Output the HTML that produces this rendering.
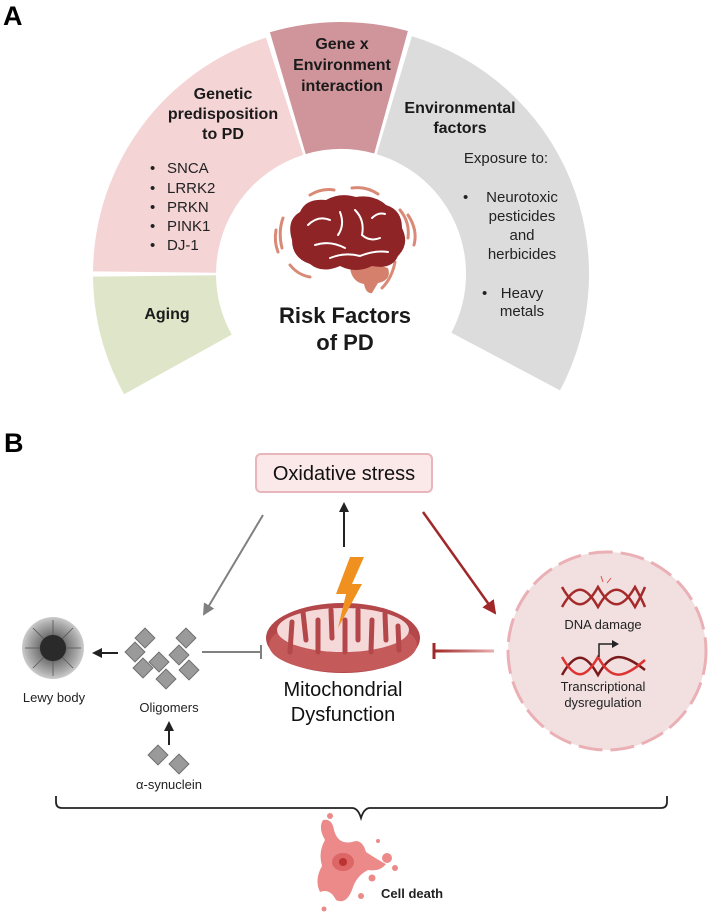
<!DOCTYPE html>
<html><head><meta charset="utf-8"><style>
html,body{margin:0;padding:0;background:#fff;}
svg{display:block;font-family:"Liberation Sans",Arial,sans-serif;}
</style></head><body>
<svg width="708" height="920" viewBox="0 0 708 920" xmlns="http://www.w3.org/2000/svg">
<defs>
<marker id="ab" markerWidth="10" markerHeight="10" refX="8" refY="5" orient="auto" markerUnits="userSpaceOnUse"><path d="M0,0 L10,5 L0,10 Z" fill="#222"/></marker>
<marker id="ag" markerWidth="12" markerHeight="12" refX="10" refY="6" orient="auto" markerUnits="userSpaceOnUse"><path d="M0,0 L12,6 L0,12 Z" fill="#808080"/></marker>
<marker id="ar" markerWidth="14" markerHeight="14" refX="12" refY="7" orient="auto" markerUnits="userSpaceOnUse"><path d="M0,0 L14,7 L0,14 Z" fill="#a02828"/></marker>
<radialGradient id="lw" cx="50%" cy="50%" r="50%"><stop offset="0.35" stop-color="#333"/><stop offset="0.45" stop-color="#777"/><stop offset="0.8" stop-color="#aaa"/><stop offset="1" stop-color="#ccc"/></radialGradient>
<linearGradient id="rg" gradientUnits="userSpaceOnUse" x1="494" y1="0" x2="435" y2="0"><stop offset="0" stop-color="#e8b0b0"/><stop offset="1" stop-color="#a02828"/></linearGradient>
</defs>

<!-- Part A -->
<text x="3" y="25" font-size="27" font-weight="bold" fill="#000">A</text>
<path d="M124.1,394.2 A248,248 0 0 1 93.0,276.6 L216.0,275.3 A125,125 0 0 0 231.7,334.6 Z" fill="#dfe5c8"/>
<path d="M93.0,271.4 A248,248 0 0 1 266.0,37.6 L303.2,154.9 A125,125 0 0 0 216.0,272.7 Z" fill="#f4d4d5"/>
<path d="M269.9,32.3 A252,252 0 0 1 407.9,31.0 L374.2,153.5 A125,125 0 0 0 305.7,154.1 Z" fill="#cf959b"/>
<path d="M411.9,36.3 A248,248 0 0 1 560.0,390.4 L451.4,332.7 A125,125 0 0 0 376.7,154.2 Z" fill="#dcdcdc"/>

<g font-size="16" font-weight="bold" fill="#1a1a1a" text-anchor="middle">
<text x="223" y="99">Genetic</text>
<text x="223" y="119">predisposition</text>
<text x="223" y="139">to PD</text>
<text x="342" y="49">Gene x</text>
<text x="342" y="70">Environment</text>
<text x="342" y="91">interaction</text>
<text x="460" y="113">Environmental</text>
<text x="460" y="133">factors</text>
<text x="167" y="319">Aging</text>
<text x="345" y="323" font-size="22">Risk Factors</text>
<text x="345" y="350" font-size="22">of PD</text>
</g>
<g font-size="15" fill="#222">
<text x="150" y="173">•</text><text x="167" y="173">SNCA</text>
<text x="150" y="193">•</text><text x="167" y="193">LRRK2</text>
<text x="150" y="212">•</text><text x="167" y="212">PRKN</text>
<text x="150" y="231">•</text><text x="167" y="231">PINK1</text>
<text x="150" y="250">•</text><text x="167" y="250">DJ-1</text>
<g text-anchor="middle">
<text x="506" y="163">Exposure to:</text>
<text x="522" y="202">Neurotoxic</text>
<text x="522" y="221">pesticides</text>
<text x="522" y="240">and</text>
<text x="522" y="259">herbicides</text>
<text x="522" y="298">Heavy</text>
<text x="522" y="316">metals</text>
</g>
<text x="463" y="202">•</text>
<text x="482" y="298">•</text>
</g>

<!-- brain -->
<g>
<g fill="none" stroke="#d98a76" stroke-width="3" stroke-linecap="round">
<path d="M310,195 Q322,188 334,190"/><path d="M352,188 Q366,186 378,194"/>
<path d="M283,218 Q278,232 282,248"/><path d="M276,230 Q274,242 278,252"/>
<path d="M400,210 Q410,222 408,238"/><path d="M408,215 Q418,230 414,245"/>
<path d="M290,265 Q298,275 310,277"/><path d="M395,262 Q392,278 382,288"/>
</g>
<path d="M350,268 Q370,262 388,268 Q392,280 378,283 L372,293 Q366,294 364,284 Q352,282 350,268 Z" fill="#d4806c"/>
<path d="M292,240 Q286,220 300,212 Q306,198 326,200 Q340,192 356,197 Q374,194 386,205 Q402,210 402,228 Q410,244 398,256 Q392,270 372,266 Q356,274 340,266 Q322,274 310,264 Q292,258 292,240 Z" fill="#8e2426"/>
<g fill="none" stroke="#fff" stroke-width="2" stroke-linecap="round">
<path d="M308,225 Q318,215 330,220"/><path d="M340,212 Q345,225 338,235"/>
<path d="M355,210 Q365,220 362,235 Q370,242 380,238"/><path d="M315,245 Q330,240 345,248"/>
<path d="M330,258 Q345,252 360,256 Q375,250 388,252"/><path d="M372,218 Q378,212 385,214"/>
</g>
</g>

<!-- Part B -->
<text x="4" y="452" font-size="27" font-weight="bold" fill="#000">B</text>
<rect x="256" y="454" width="176" height="38" rx="5" fill="#fbe8e9" stroke="#e8b6ba" stroke-width="2"/>
<text x="344" y="480" font-size="20" text-anchor="middle" fill="#111">Oxidative stress</text>

<line x1="344" y1="547" x2="344" y2="504" stroke="#222" stroke-width="2" marker-end="url(#ab)"/>
<line x1="263" y1="515" x2="204" y2="614" stroke="#808080" stroke-width="2" marker-end="url(#ag)"/>
<line x1="423" y1="512" x2="495" y2="613" stroke="#a02828" stroke-width="2.5" marker-end="url(#ar)"/>

<!-- nucleus -->
<circle cx="607" cy="651" r="99" fill="#f2e0e1" stroke="#eab0b5" stroke-width="3" stroke-dasharray="24 8"/>
<g fill="none" stroke-width="2.5">
<path d="M562,587 C575,610 585,610 598,587 C611,610 622,610 635,587 C640,596 643,602 645,607" stroke="#a52a2a"/>
<path d="M562,607 C575,584 585,584 598,607 C611,584 622,584 635,607 C640,598 643,592 645,587" stroke="#a52a2a"/>
<path d="M562,675 C575,652 585,652 598,675 C611,652 622,652 645,670" stroke="#7a1a1a"/>
<path d="M562,657 C575,680 585,680 598,657 C611,680 622,680 645,660" stroke="#d33"/>
</g>
<path d="M599,657 L599,644 L613,644" fill="none" stroke="#222" stroke-width="1.5"/>
<path d="M612,640 L619,644 L612,648 Z" fill="#222"/>
<g stroke="#e05050" stroke-width="1"><line x1="603" y1="582" x2="601" y2="576"/><line x1="607" y1="583" x2="611" y2="578"/></g>
<g font-size="13" fill="#222" text-anchor="middle">
<text x="603" y="629">DNA damage</text>
<text x="603" y="691">Transcriptional</text>
<text x="603" y="707">dysregulation</text>
</g>

<!-- inhibition lines -->
<rect x="435" y="649.5" width="59" height="3" fill="url(#rg)"/>
<line x1="434" y1="643" x2="434" y2="659" stroke="#a02828" stroke-width="3"/>
<line x1="202" y1="652" x2="260" y2="652" stroke="#808080" stroke-width="2"/>
<line x1="261" y1="645" x2="261" y2="659" stroke="#808080" stroke-width="2"/>

<!-- mitochondria -->
<ellipse cx="343" cy="638" rx="77" ry="35" fill="#b3474a"/>
<ellipse cx="343" cy="645" rx="74" ry="27" fill="#c45a5a"/>
<ellipse cx="343" cy="630" rx="66" ry="22" fill="#f5d8d8"/>
<g stroke="#b3474a" stroke-width="5" stroke-linecap="round">
<line x1="290" y1="652" x2="292" y2="622"/><line x1="303" y1="612" x2="306" y2="640"/>
<line x1="318" y1="652" x2="318" y2="620"/><line x1="331" y1="610" x2="332" y2="638"/>
<line x1="345" y1="652" x2="345" y2="620"/><line x1="358" y1="610" x2="358" y2="640"/>
<line x1="371" y1="652" x2="372" y2="620"/><line x1="385" y1="614" x2="386" y2="640"/>
<line x1="399" y1="650" x2="398" y2="626"/>
</g>
<path d="M350,557 L364,557 L352,584 L362,584 L338,628 L346,594 L336,594 Z" fill="#f0901e"/>
<text x="343" y="696" font-size="20" text-anchor="middle" fill="#111">Mitochondrial</text>
<text x="343" y="721" font-size="20" text-anchor="middle" fill="#111">Dysfunction</text>

<!-- Lewy body -->
<circle cx="53" cy="648" r="31" fill="url(#lw)"/>
<g stroke="#555" stroke-width="0.8" fill="none">
<path d="M53,635 L53,620"/><path d="M53,661 L53,676"/><path d="M40,648 L25,648"/><path d="M66,648 L81,648"/>
<path d="M44,639 L33,628"/><path d="M62,639 L73,628"/><path d="M44,657 L33,668"/><path d="M62,657 L73,668"/>
</g>
<circle cx="53" cy="648" r="13" fill="#2a2a2a"/>
<text x="54" y="702" font-size="13" text-anchor="middle" fill="#222">Lewy body</text>
<line x1="118" y1="653" x2="94" y2="653" stroke="#222" stroke-width="2" marker-end="url(#ab)"/>

<!-- oligomers -->
<g fill="#9a9a9a" stroke="#6e6e6e" stroke-width="1">
<rect x="-7" y="-7" width="14" height="14" transform="translate(145,638) rotate(45)"/>
<rect x="-7" y="-7" width="14" height="14" transform="translate(135,652) rotate(45)"/>
<rect x="-7" y="-7" width="14" height="14" transform="translate(143,668) rotate(45)"/>
<rect x="-7" y="-7" width="14" height="14" transform="translate(159,662) rotate(45)"/>
<rect x="-7" y="-7" width="14" height="14" transform="translate(166,679) rotate(45)"/>
<rect x="-7" y="-7" width="14" height="14" transform="translate(186,638) rotate(45)"/>
<rect x="-7" y="-7" width="14" height="14" transform="translate(179,655) rotate(45)"/>
<rect x="-7" y="-7" width="14" height="14" transform="translate(189,670) rotate(45)"/>
<rect x="-7" y="-7" width="14" height="14" transform="translate(158,755) rotate(45)"/>
<rect x="-7" y="-7" width="14" height="14" transform="translate(179,764) rotate(45)"/>
</g>
<text x="169" y="712" font-size="13" text-anchor="middle" fill="#222">Oligomers</text>
<line x1="169" y1="745" x2="169" y2="723" stroke="#222" stroke-width="2" marker-end="url(#ab)"/>
<text x="169" y="789" font-size="13" text-anchor="middle" fill="#222">α-synuclein</text>

<!-- brace -->
<path d="M56,796 L56,802 Q56,808 62,808 L352,808 Q358,808 361,818 Q364,808 370,808 L661,808 Q667,808 667,802 L667,796" fill="none" stroke="#222" stroke-width="1.8"/>

<!-- cell death -->
<g fill="#ec8a8a">
<path d="M323,820 Q332,818 334,830 Q338,845 352,842 Q362,838 366,852 Q378,860 386,864 Q380,872 368,870 Q356,876 352,890 Q346,905 336,900 Q330,888 320,892 Q314,880 322,866 Q318,852 325,840 Q318,828 323,820 Z"/>
<circle cx="387" cy="858" r="5"/><circle cx="395" cy="868" r="3"/><circle cx="372" cy="878" r="3.5"/>
<circle cx="361" cy="896" r="3"/><circle cx="324" cy="909" r="2.5"/><circle cx="378" cy="841" r="2"/>
<circle cx="330" cy="816" r="3"/>
</g>
<ellipse cx="343" cy="862" rx="11" ry="9" fill="#d66"/>
<circle cx="343" cy="862" r="4" fill="#b33"/>
<text x="381" y="898" font-size="13" font-weight="bold" fill="#222">Cell death</text>
</svg>
</body></html>
